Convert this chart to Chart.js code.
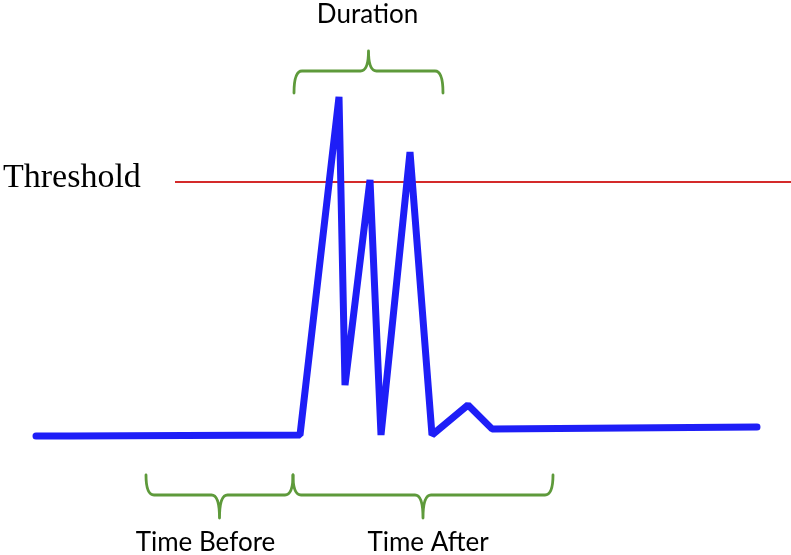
<!DOCTYPE html>
<html>
<head>
<meta charset="utf-8">
<script src="https://cdn.jsdelivr.net/npm/chart.js@4"></script>
<style>
    html, body { margin: 0; padding: 0; background: #fff; }
    #wrap { width: 791px; height: 555px; }
</style>
</head>
<body>
<div id="wrap"><canvas id="myChart" width="791" height="555"></canvas></div>
<script>
// time axis (arbitrary units) and signal level (threshold = 100)
const times = [0, 3.4, 26.4, 30.3, 30.9, 33.4, 34.5, 37.4, 39.6, 43.2, 45.6, 72.1];
const signal = [0, 0, 0.4, 133.5, 20, 100.8, 0.4, 111.8, 0.4, 12.2, 2.8, 3.5];
const thresholdLevel = 100;
const thresholdSpan = [13.9, 75.5];

const braceLabels = ['Duration', 'Time Before', 'Time After'];
const braceStarts = [25.8, 11.0, 25.7];
const braceEnds = [40.7, 25.7, 51.7];

(function () {
    const ctx = document.getElementById('myChart');

    const braces = {
        id: 'braces',
        afterDatasetsDraw(chart) {
            const c = chart.ctx;
            const x = chart.scales.x;

            function brace(x1, x2, yEnd, yMid, yTip) {
                const xm = (x1 + x2) / 2;
                const r = 8;
                c.beginPath();
                c.moveTo(x1, yEnd);
                c.quadraticCurveTo(x1, yMid, x1 + r, yMid);
                c.lineTo(xm - r, yMid);
                c.quadraticCurveTo(xm, yMid, xm, yTip);
                c.moveTo(x2, yEnd);
                c.quadraticCurveTo(x2, yMid, x2 - r, yMid);
                c.lineTo(xm + r, yMid);
                c.quadraticCurveTo(xm, yMid, xm, yTip);
                c.stroke();
            }

            c.save();
            c.strokeStyle = '#5e9a3b';
            c.lineWidth = 2.8;
            c.lineCap = 'round';
            c.fillStyle = '#000';
            c.textAlign = 'center';
            c.textBaseline = 'alphabetic';
            c.font = '26px Lato';

            // label shifts from brace centre, as in the picture
            const shifts = [-1, -14, 5];
            braceLabels.forEach((label, i) => {
                const x1 = x.getPixelForValue(braceStarts[i]);
                const x2 = x.getPixelForValue(braceEnds[i]);
                const xm = (x1 + x2) / 2;
                if (i === 0) {
                    brace(x1, x2, 93, 71, 51);
                    c.fillText(label, xm + shifts[i], 23);
                } else {
                    brace(x1, x2, 475, 495, 518);
                    c.fillText(label, xm + shifts[i], 551);
                }
            });

            c.textAlign = 'left';
            c.font = '34px "Liberation Serif"';
            c.fillText('Threshold', 3, 187);
            c.restore();
        }
    };

    const data = {
        datasets: [{
            label: 'Signal',
            data: times.map((t, i) => ({ x: t, y: signal[i] })),
            borderColor: '#1e1ef7',
            borderWidth: 7,
            borderJoinStyle: 'bevel',
            borderCapStyle: 'round',
            pointRadius: 0,
            tension: 0
        }, {
            label: 'Threshold',
            data: thresholdSpan.map(t => ({ x: t, y: thresholdLevel })),
            borderColor: '#d42a2a',
            borderWidth: 2,
            pointRadius: 0
        }]
    };

    const config = {
        type: 'line',
        data: data,
        options: {
            responsive: false,
            animation: false,
            devicePixelRatio: 1,
            layout: { padding: 0 },
            scales: {
                x: { type: 'linear', min: -3.6, max: 75.5, display: false },
                y: { min: -46.85, max: 171.65, display: false }
            },
            plugins: {
                legend: { display: false },
                tooltip: { enabled: false }
            }
        },
        plugins: [braces]
    };

    if (ctx) {
        new Chart(ctx, config);
    }
})();
</script>
</body>
</html>
